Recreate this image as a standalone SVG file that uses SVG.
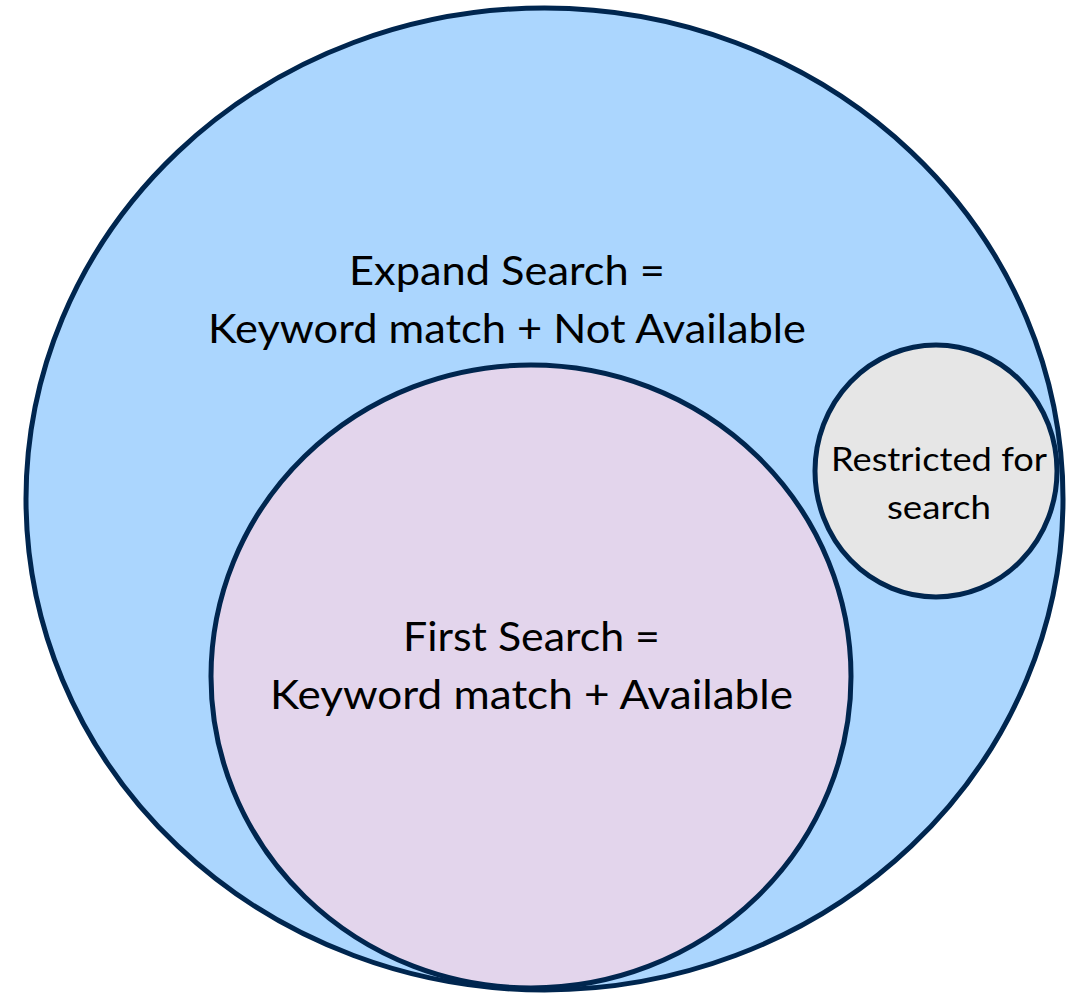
<svg xmlns="http://www.w3.org/2000/svg" width="1076" height="996" viewBox="0 0 1076 996">
  <style>
    .ring { stroke: #00264f; stroke-width: 5; }
    .lbl { font-family: Lato, "Open Sans", "Liberation Sans", sans-serif; fill: #000000; text-anchor: middle; }
    .big { font-size: 40px; }
    .small { font-size: 32px; }
  </style>
  <rect width="1076" height="996" fill="#ffffff"/>
  <g id="expand-search">
    <ellipse class="ring" cx="544.5" cy="499" rx="518.5" ry="491" fill="#abd6fe"/>
    <text class="lbl big" x="507" y="285" textLength="316" lengthAdjust="spacingAndGlyphs">Expand Search =</text>
    <text class="lbl big" x="507" y="343" textLength="598" lengthAdjust="spacingAndGlyphs">Keyword match + Not Available</text>
  </g>
  <g id="first-search">
    <ellipse class="ring" cx="531" cy="676.5" rx="320" ry="311.5" fill="#e3d5ec"/>
    <text class="lbl big" x="531.5" y="651" textLength="257" lengthAdjust="spacingAndGlyphs">First Search =</text>
    <text class="lbl big" x="531.5" y="709" textLength="523" lengthAdjust="spacingAndGlyphs">Keyword match + Available</text>
  </g>
  <g id="restricted">
    <ellipse class="ring" cx="936" cy="471" rx="121" ry="126" fill="#e6e6e6"/>
    <text class="lbl small" x="939" y="471" textLength="216" lengthAdjust="spacingAndGlyphs">Restricted for</text>
    <text class="lbl small" x="939" y="519" textLength="104" lengthAdjust="spacingAndGlyphs">search</text>
  </g>
  <g id="connectors"/>
</svg>
